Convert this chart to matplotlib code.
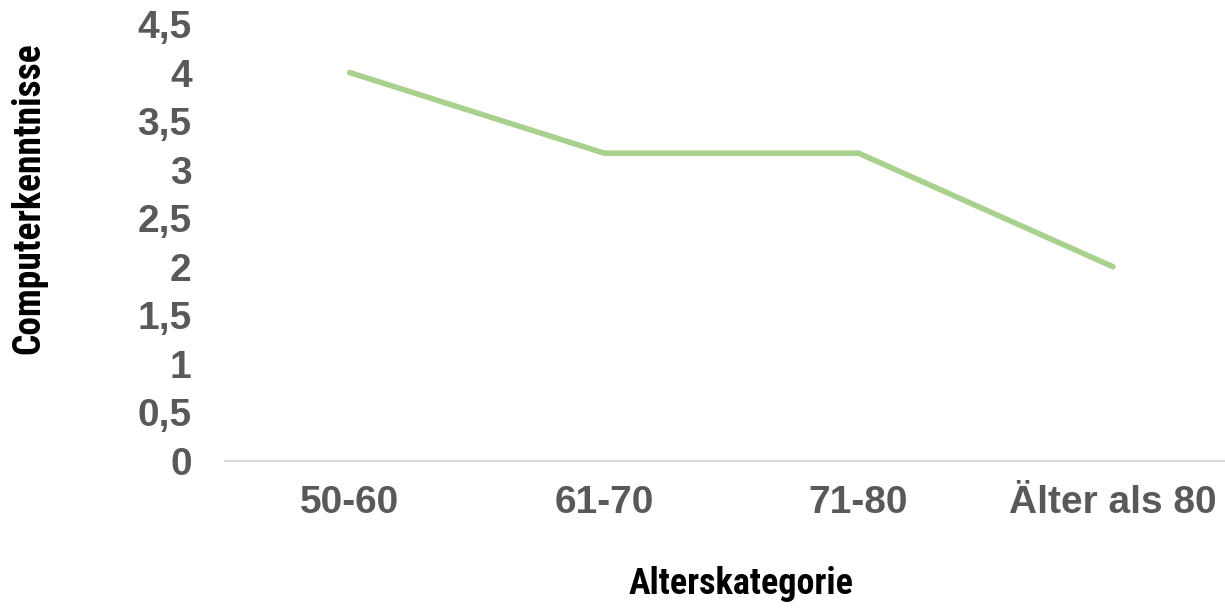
import matplotlib
matplotlib.use("Agg")
import matplotlib.pyplot as plt
from matplotlib import font_manager
from matplotlib.ticker import FixedLocator, FuncFormatter

# Age groups and mean computer-skill ratings
categories = ["50-60", "61-70", "71-80", "Älter als 80"]
values = [4.0, 3.17, 3.17, 2.0]
y_ticks = [0, 0.5, 1, 1.5, 2, 2.5, 3, 3.5, 4, 4.5]

available = {f.name for f in font_manager.fontManager.ttflist}
tick_font = "Liberation Sans"
title_font = "Roboto Condensed" if "Roboto Condensed" in available else "Roboto"

fig = plt.figure(figsize=(12.25, 6.08), dpi=100)
ax = fig.add_axes([225 / 1225, 1 - 461 / 608, 1 - 225 / 1225, (461 - 24) / 608])

x = list(range(len(categories)))
ax.plot(x, values, color="#A9D18E", linewidth=4.0, solid_capstyle="round", solid_joinstyle="miter")

ax.set_ylim(0, 4.5)
ax.set_xlim(-0.49, 3.44)
ax.yaxis.set_major_locator(FixedLocator(y_ticks))
ax.yaxis.set_major_formatter(FuncFormatter(lambda v, _: f"{v:g}".replace(".", ",")))
ax.set_xticks(x)
ax.set_xticklabels(categories)

for spine in ["top", "right", "left"]:
    ax.spines[spine].set_visible(False)
ax.spines["bottom"].set_color("#D9D9D9")
ax.spines["bottom"].set_linewidth(1.5)
ax.tick_params(axis="both", length=0, labelcolor="#595959")
ax.tick_params(axis="y", pad=24)
ax.tick_params(axis="x", pad=17)
for lbl in ax.get_xticklabels() + ax.get_yticklabels():
    lbl.set_fontfamily(tick_font)
    lbl.set_fontweight("bold")
    lbl.set_fontsize(28)

fig.text(29 / 1225, 1 - 198 / 608, "Computerkenntnisse", rotation=90, ha="center", va="center",
         fontfamily=title_font, fontweight="bold", fontsize=27, color="black")
fig.text(741 / 1225, 1 - 584 / 608, "Alterskategorie", ha="center", va="center",
         fontfamily=title_font, fontweight="bold", fontsize=26, color="black")

fig.savefig("out.png", dpi=100)
